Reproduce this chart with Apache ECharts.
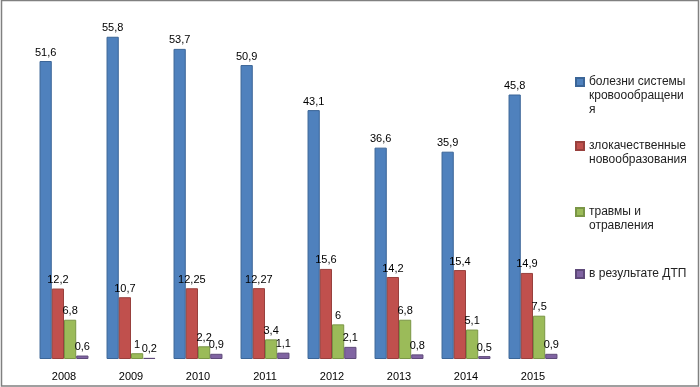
<!DOCTYPE html>
<html><head><meta charset="utf-8">
<script src="https://cdn.jsdelivr.net/npm/echarts@6/dist/echarts.min.js"></script>
<style>html,body{margin:0;padding:0;background:#fff}#c{width:700px;height:387px}</style>
</head><body><div id="c"></div>
<script>
var years = ['2008','2009','2010','2011','2012','2013','2014','2015'];
var seriesNames = ['болезни системы кровоообращения','злокачественные новообразования','травмы и отравления','в результате ДТП'];
var legendTexts = ['болезни системы\nкровоообращени\nя','злокачественные\nновообразования','травмы и\nотравления','в результате ДТП'];
var circulatory = [51.6, 55.8, 53.7, 50.9, 43.1, 36.6, 35.9, 45.8];
var neoplasms = [12.2, 10.7, 12.25, 12.27, 15.6, 14.2, 15.4, 14.9];
var injuries = [6.8, 1, 2.2, 3.4, 6, 6.8, 5.1, 7.5];
var traffic = [0.6, 0.2, 0.9, 1.1, 2.1, 0.8, 0.5, 0.9];

var colors = ['#4F81BD','#C0504D','#9BBB59','#8064A2'];
var borders = ['#3B6597','#98403D','#7A9646','#5F4A7A'];
var font = 'Arial, "Liberation Sans", sans-serif';
var dataSets = [circulatory, neoplasms, injuries, traffic];
var legendTops = [74, 138, 204, 266];
var legendLines = [3, 2, 2, 1];
var LH = 14;

function iconPath(lines){
  var h = lines * LH;
  return 'path://M0,3L8,3L8,11L0,11Z M0,0L0,0 M8,' + h + 'L8,' + h;
}

var chart = echarts.init(document.getElementById('c'), null, {renderer:'canvas'});
var option = {
  animation: false,
  backgroundColor: '#fff',
  grid: {left: 30.5, right: 133.5, top: 12.5, bottom: 28, containLabel: false},
  xAxis: {
    type: 'category', data: years,
    axisLine: {show: false}, axisTick: {show: false},
    axisLabel: {color: '#000', fontSize: 11, fontFamily: font, margin: 12}
  },
  yAxis: {
    type: 'value', min: 0, max: 60, show: false, splitLine: {show: false}
  },
  legend: seriesNames.map(function(n, i){
    return {
      data: [{name: n, icon: iconPath(legendLines[i])}],
      orient: 'vertical', left: 575, top: legendTops[i], padding: 0,
      itemWidth: 8, itemHeight: legendLines[i] * LH,
      formatter: function(){ return legendTexts[i]; },
      textStyle: {color: '#222', fontSize: 12, fontFamily: font, lineHeight: LH},
      selectedMode: false
    };
  }),
  graphic: [{
    type: 'rect', shape: {x: 1.5, y: 0.5, width: 697, height: 385.5},
    style: {fill: 'none', stroke: '#808080', lineWidth: 1.5}, silent: true, z: 100
  }],
  series: seriesNames.map(function(n, i){
    return {
      name: n, type: 'bar', data: dataSets[i],
      barCategoryGap: '27%', barGap: '0%',
      itemStyle: {color: colors[i], borderColor: borders[i], borderWidth: 1},
      label: {
        show: true, position: 'top', distance: 3,
        color: '#000', fontSize: 11, fontFamily: font,
        formatter: function(p){ return String(p.value).replace('.', ','); }
      }
    };
  })
};
chart.setOption(option);
</script></body></html>
